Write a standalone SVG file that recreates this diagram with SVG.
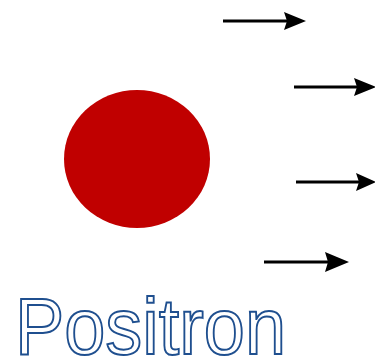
<svg xmlns="http://www.w3.org/2000/svg" width="375" height="357" viewBox="0 0 375 357">
<style>
.arrow{stroke:#000;stroke-width:3;fill:none}
.head{fill:#000}
.label{font-family:"Liberation Sans",Arial,sans-serif;font-size:80px;fill:#fff;stroke:#1f4f8f;stroke-width:2}
</style>
<rect width="375" height="357" fill="#fff"/>
<g id="positron">
<ellipse cx="137" cy="159" rx="73" ry="69" fill="#c00000"/>
</g>
<g id="connectors">
<line class="arrow" x1="223" y1="21" x2="290" y2="21"/>
<path class="head" d="M306,21 L284,12 L287,21 L284,30 Z"/>
<line class="arrow" x1="294" y1="87" x2="360" y2="87"/>
<path class="head" d="M376,87 L354,78 L357,87 L354,96 Z"/>
<line class="arrow" x1="296" y1="182" x2="360" y2="182"/>
<path class="head" d="M376,182 L356,173 L359,182 L356,191 Z"/>
<line class="arrow" x1="264" y1="262" x2="332" y2="262"/>
<path class="head" d="M349,262 L325,252 L328,262 L325,272 Z"/>
</g>
<g id="label">
<text class="label" x="15" y="354" textLength="271" lengthAdjust="spacingAndGlyphs">Positron</text>
</g>
</svg>
